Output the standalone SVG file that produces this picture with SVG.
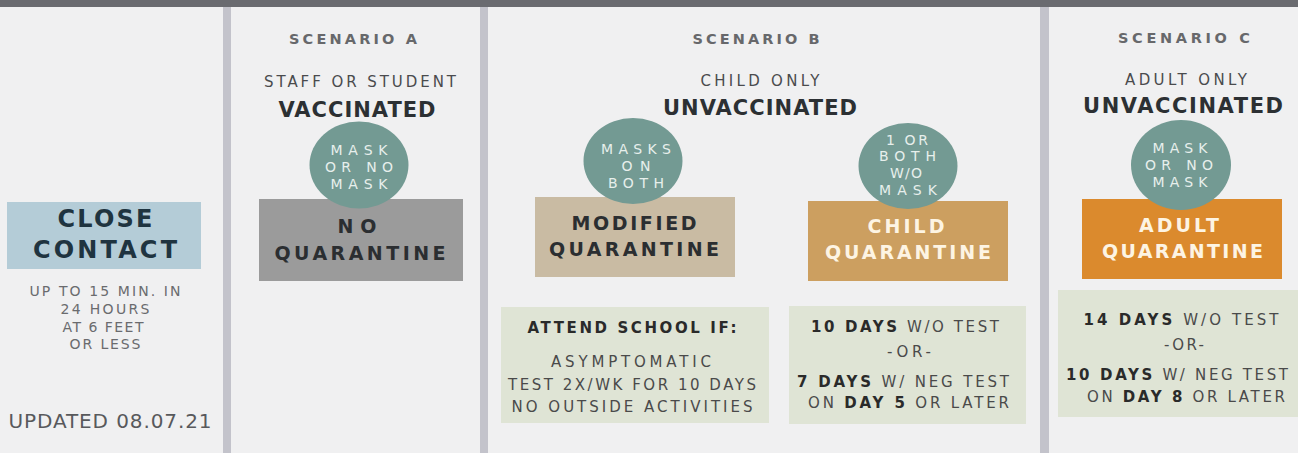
<svg xmlns="http://www.w3.org/2000/svg" width="1298" height="453" viewBox="0 0 1298 453">
<style>
text{font-family:"DejaVu Sans","Liberation Sans",Arial,sans-serif;text-anchor:middle}
.scen{font-size:14.5px;font-weight:bold;fill:#67686b}
.sub{font-size:15px;fill:#4a4b4d}
.vac{font-size:21px;font-weight:bold;fill:#2c3033}
.circ{font-size:14px;fill:#e7efec}
.hd{font-size:19px;font-weight:bold}
.dark{fill:#2b2e31}
.light{fill:#fdf4e3}
.body{font-size:15px;fill:#4a4a4a}
.b{font-weight:bold;fill:#2a2a2a}
.small{font-size:14px;fill:#6a6b6e}
.bubble{fill:#739a93}
.green{fill:#dfe4d5}
.div{fill:#c3c3cb}
</style>
<rect x="0" y="0" width="1298" height="453" fill="#f0f0f1"/>
<rect x="0" y="0" width="1298" height="7" fill="#6a6b70"/>
<rect class="div" x="223" y="7" width="8" height="446"/>
<rect class="div" x="480" y="7" width="8" height="446"/>
<rect class="div" x="1040" y="7" width="9" height="446"/>

<g id="close-contact">
<rect x="7" y="202" width="194" height="67" fill="#b4ccd7"/>
<text x="105" y="227" font-size="24" font-weight="bold" fill="#1f3440" textLength="95">CLOSE</text>
<text x="105" y="258" font-size="24" font-weight="bold" fill="#1f3440" textLength="144">CONTACT</text>
<text class="small" x="105" y="296" textLength="151">UP TO 15 MIN. IN</text>
<text class="small" x="105" y="314" textLength="89">24 HOURS</text>
<text class="small" x="103" y="332" textLength="81">AT 6 FEET</text>
<text class="small" x="105" y="349" textLength="71">OR LESS</text>
</g>
<g id="updated">
<text x="110" y="428" font-size="20" fill="#58595c" textLength="203">UPDATED 08.07.21</text>
</g>

<g id="scenario-a">
<text class="scen" x="353" y="44" textLength="128">SCENARIO A</text>
<text class="sub" x="360" y="87" textLength="192">STAFF OR STUDENT</text>
<text class="vac" x="357" y="117" textLength="157">VACCINATED</text>
</g>
<g id="no-quarantine">
<rect x="259" y="199" width="204" height="82" fill="#9b9b9b"/>
<text class="hd dark" x="357" y="233" textLength="39">NO</text>
<text class="hd dark" x="360" y="260" textLength="171">QUARANTINE</text>
</g>
<g id="mask-a">
<ellipse class="bubble" cx="359" cy="165" rx="49.5" ry="43.5"/>
<text class="circ" x="359" y="155" textLength="57">MASK</text>
<text class="circ" x="359" y="172" textLength="68">OR NO</text>
<text class="circ" x="359" y="189" textLength="57">MASK</text>
</g>

<g id="scenario-b">
<text class="scen" x="756" y="44" textLength="127">SCENARIO B</text>
<text class="sub" x="760" y="86" textLength="119">CHILD ONLY</text>
<text class="vac" x="760" y="115" textLength="194">UNVACCINATED</text>
</g>
<g id="modified-quarantine">
<rect x="535" y="197" width="200" height="80" fill="#c9bba3"/>
<text class="hd dark" x="634" y="230" textLength="125">MODIFIED</text>
<text class="hd dark" x="634" y="256" textLength="170">QUARANTINE</text>
</g>
<g id="masks-on-both">
<ellipse class="bubble" cx="633" cy="161" rx="49.5" ry="43"/>
<text class="circ" x="636" y="154" textLength="70">MASKS</text>
<text class="circ" x="636" y="171" textLength="29">ON</text>
<text class="circ" x="636" y="188" textLength="56">BOTH</text>
</g>
<g id="child-quarantine">
<rect x="808" y="201" width="200" height="80" fill="#cc9f60"/>
<text class="hd light" x="906" y="233" textLength="77">CHILD</text>
<text class="hd light" x="908" y="259" textLength="166">QUARANTINE</text>
</g>
<g id="one-or-both">
<ellipse class="bubble" cx="908" cy="166" rx="49.5" ry="43"/>
<text class="circ" x="907" y="145" textLength="42">1 OR</text>
<text class="circ" x="907.5" y="161" textLength="57">BOTH</text>
<text class="circ" x="906" y="178" textLength="32">W/O</text>
<text class="circ" x="908" y="195" textLength="58">MASK</text>
</g>
<g id="attend-school">
<rect class="green" x="501" y="307" width="268" height="116"/>
<text class="body b" x="632" y="333" textLength="209">ATTEND SCHOOL IF:</text>
<text class="body" x="631" y="367" textLength="160">ASYMPTOMATIC</text>
<text class="body" x="632" y="390" textLength="248">TEST 2X/WK FOR 10 DAYS</text>
<text class="body" x="632" y="412" textLength="241">NO  OUTSIDE ACTIVITIES</text>
</g>
<g id="child-days">
<rect class="green" x="789" y="306" width="237" height="118"/>
<text class="body" x="905" y="332" textLength="188"><tspan class="b">10  DAYS</tspan> W/O TEST</text>
<text class="body" x="909" y="357" textLength="44">-OR-</text>
<text class="body" x="903" y="387" textLength="212"><tspan class="b">7 DAYS</tspan>  W/ NEG TEST</text>
<text class="body" x="908.5" y="408" textLength="201">ON <tspan class="b">DAY 5</tspan> OR LATER</text>
</g>

<g id="scenario-c">
<text class="scen" x="1184" y="43" textLength="132">SCENARIO C</text>
<text class="sub" x="1186" y="85" textLength="122">ADULT ONLY</text>
<text class="vac" x="1183" y="113" textLength="200">UNVACCINATED</text>
</g>
<g id="adult-quarantine">
<rect x="1082" y="199" width="200" height="80" fill="#db8a2d"/>
<text class="hd light" x="1179" y="232" textLength="80">ADULT</text>
<text class="hd light" x="1182.5" y="258" textLength="161">QUARANTINE</text>
</g>
<g id="mask-c">
<ellipse class="bubble" cx="1181" cy="165" rx="50" ry="45"/>
<text class="circ" x="1180" y="153" textLength="55">MASK</text>
<text class="circ" x="1179" y="170" textLength="68">OR NO</text>
<text class="circ" x="1180" y="187" textLength="55">MASK</text>
</g>
<g id="adult-days">
<rect class="green" x="1058" y="290" width="240" height="127"/>
<text class="body" x="1181" y="325" textLength="195"><tspan class="b">14  DAYS</tspan> W/O TEST</text>
<text class="body" x="1184" y="350" textLength="40">-OR-</text>
<text class="body" x="1177" y="380" textLength="222"><tspan class="b">10 DAYS</tspan>  W/ NEG TEST</text>
<text class="body" x="1186" y="402" textLength="198">ON <tspan class="b">DAY 8</tspan> OR LATER</text>
</g>
<g id="connectors"/>
</svg>
